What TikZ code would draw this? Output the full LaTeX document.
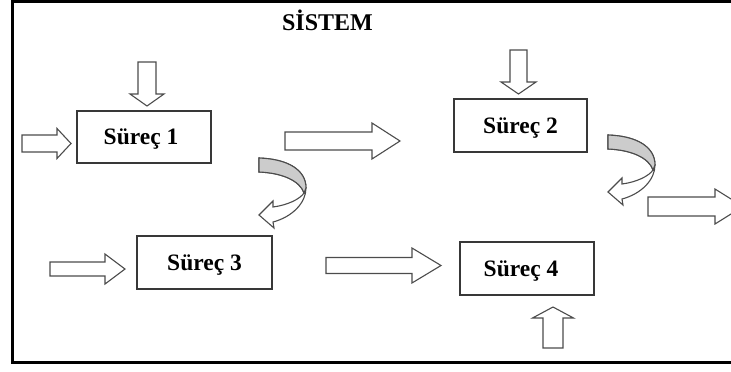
\documentclass[tikz,border=0pt]{standalone}
\usepackage{fontspec}
\setmainfont{Liberation Serif}
\begin{document}
\begin{tikzpicture}[x=1pt,y=-1pt,
  stepbox/.style={draw=black!78,line width=1.5pt,fill=white,minimum width=134pt,
    minimum height=52pt,inner sep=0pt,text depth=0pt,
    font=\fontsize{23.5}{26}\selectfont\bfseries},
  blockarrow/.style={draw=black!70,line width=1.1pt,fill=white,line join=miter},
  bandshade/.style={draw=black!70,line width=1.1pt,fill=black!20},
  titletext/.style={font=\fontsize{24}{28}\selectfont\bfseries,inner sep=0pt},
  pics/turnarrow/.style={code={
    % white body: back band, turn and the left-pointing head
    \draw[blockarrow] (0,0) .. controls (29,1) and (47,12) .. (47,30)
      .. controls (47,45) and (33,59) .. (14,64) -- (15,70) -- (0,57)
      -- (14,43) -- (14,49) .. controls (29,47) and (41,41) .. (45,35)
      .. controls (41,23) and (24,15) .. (0,14) -- cycle;
    % shaded back side of the band
    \draw[bandshade] (0,0) .. controls (29,1) and (47,12) .. (47,30)
      -- (45,35) .. controls (41,23) and (24,15) .. (0,14) -- cycle;
  }}]

% horizontal block arrow: start x, head x, tip x, centre y, half shaft, half head
\newcommand\harrowshape[6]{%
  \draw[blockarrow] (#1,{#4-#5}) -- (#2,{#4-#5}) -- (#2,{#4-#6}) -- (#3,#4)
    -- (#2,{#4+#6}) -- (#2,{#4+#5}) -- (#1,{#4+#5}) -- cycle;}
% vertical block arrow: centre x, start y, head y, tip y, half shaft, half head
\newcommand\varrowshape[6]{%
  \draw[blockarrow] ({#1-#5},#2) -- ({#1-#5},#3) -- ({#1-#6},#3) -- (#1,#4)
    -- ({#1+#6},#3) -- ({#1+#5},#3) -- ({#1+#5},#2) -- cycle;}

\useasboundingbox (0,0) rectangle (731,372);
\clip (0,0) rectangle (731,372);

% outer frame of the system
\draw[line width=3pt,black] (12.5,1) rectangle (790,362.5);

\node[titletext,anchor=base] (title) at (327.5,30) {SİSTEM};

% processes
\node[stepbox] (s1) at (144,137) {\hspace{-6pt}Süreç 1};
\node[stepbox,minimum width=133pt,minimum height=53pt] (s2) at (520.5,125.5) {Süreç 2};
\node[stepbox,minimum width=135pt,minimum height=53pt] (s3) at (204.5,262.5) {Süreç 3};
\node[stepbox,minimum height=53pt] (s4) at (527,268.5) {\hspace{-12pt}Süreç 4};

% inputs
\varrowshape{147}{62}{94}{106}{9}{17}
\varrowshape{518.5}{50}{82}{94}{8.5}{17.5}
\harrowshape{22}{57}{71}{143.5}{8.5}{15}
\harrowshape{50}{105}{125}{269}{7}{15}
\varrowshape{553}{348}{318}{307}{10}{20.5}

% flow between processes
\harrowshape{285}{372}{400}{141}{9}{18}
\harrowshape{326}{412}{441}{265.5}{8}{17.5}

% output of the system
\harrowshape{648}{715}{743}{206.5}{9.5}{17.5}

% turning arrows
\pic at (259,158) {turnarrow};
\pic at (608,135) {turnarrow};

\end{tikzpicture}
\end{document}
